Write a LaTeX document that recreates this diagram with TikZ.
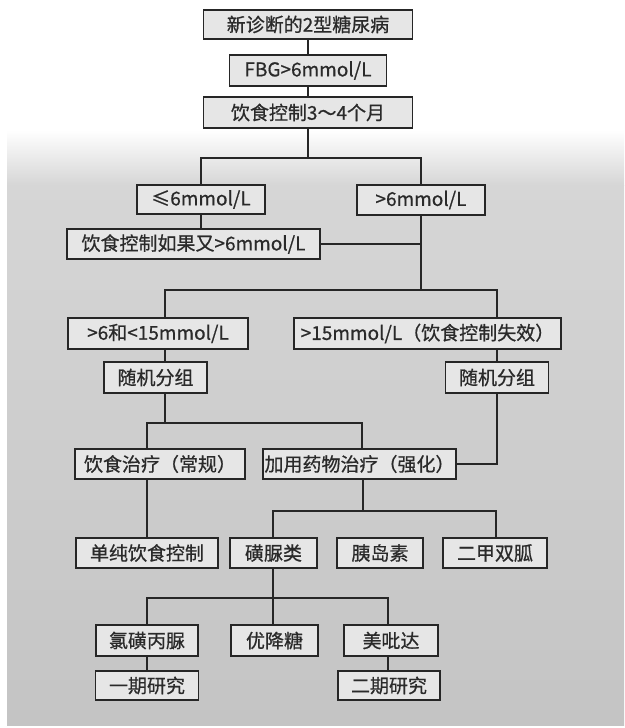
\documentclass[tikz,border=0pt]{standalone}
\usepackage{fontspec}
\setmainfont{Noto Sans CJK SC}[FakeBold=0.7]
\definecolor{bgA}{HTML}{D6D6D6}
\definecolor{bgB}{HTML}{C4C4C4}
\definecolor{boxfill}{HTML}{E6E6E6}
\definecolor{boxline}{HTML}{262626}
\definecolor{txt}{HTML}{2A2A2A}
\begin{document}
\begin{tikzpicture}[x=1pt,y=-1pt,
  box/.style={draw=boxline, fill=boxfill, line width=1.4pt, inner sep=0pt,
    minimum height=30pt, text=txt, font=\fontsize{19}{20}\selectfont},
  link/.style={draw=boxline, line width=1.2pt}]
\useasboundingbox (0,0) rectangle (624,728);
\fill[white] (0,0) rectangle (624,728);
\shade[top color=white, bottom color=bgA] (7,130) rectangle (624,185);
\shade[top color=bgA, bottom color=bgB] (7,185) rectangle (624,725);

% nodes
\node[box, minimum width=209pt, minimum height=29pt] (b1) at (308,24.5) {新诊断的2型糖尿病};
\node[box, minimum width=157pt, minimum height=31pt] (b2) at (308,70.5) {FBG>6mmol/L};
\node[box, minimum width=209pt, minimum height=31pt] (b3) at (308,112.5) {饮食控制3～4个月};

\node[box, minimum width=128pt, minimum height=29pt] (b4) at (201,199.5) {≤6mmol/L};
\node[box, minimum width=128pt, minimum height=30pt] (b5) at (421,200) {>6mmol/L};
\node[box, minimum width=253pt, minimum height=30pt] (b6) at (193.5,244) {饮食控制如果又>6mmol/L};

\node[box, minimum width=180pt, minimum height=31pt] (b7) at (158,333.5) {>6和<15mmol/L};
\node[box, minimum width=267pt, minimum height=31pt] (b8) at (427.5,333.5) {>15mmol/L（饮食控制失效）};
\node[box, minimum width=103pt, minimum height=31pt] (r1) at (155.5,377.5) {随机分组};
\node[box, minimum width=103pt, minimum height=31pt] (r2) at (497,377.5) {随机分组};

\node[box, minimum width=170pt, minimum height=30pt] (b9) at (160,464) {饮食治疗（常规）};
\node[box, minimum width=193pt, minimum height=30pt] (b10) at (359.5,464) {加用药物治疗（强化）};

\node[box, minimum width=142pt, minimum height=30pt] (c1) at (147,553) {单纯饮食控制};
\node[box, minimum width=87pt, minimum height=30pt] (c2) at (273.5,553) {磺脲类};
\node[box, minimum width=86pt, minimum height=30pt] (c3) at (380,553) {胰岛素};
\node[box, minimum width=104pt, minimum height=30pt] (c4) at (495,553) {二甲双胍};

\node[box, minimum width=102pt, minimum height=31pt] (d1) at (147,640.5) {氯磺丙脲};
\node[box, minimum width=87pt, minimum height=31pt] (d2) at (274.5,640.5) {优降糖};
\node[box, minimum width=94pt, minimum height=31pt] (d3) at (391,640.5) {美吡达};
\node[box, minimum width=103pt, minimum height=29pt] (e1) at (147,685.5) {一期研究};
\node[box, minimum width=102pt, minimum height=29pt] (e2) at (389,685.5) {二期研究};

% junction coordinates
\coordinate (j1) at (308,158);
\coordinate (j2) at (421,290);
\coordinate (jL) at (165,290);
\coordinate (jR) at (497,290);
\coordinate (k1) at (165,423);
\coordinate (kL) at (147,423);
\coordinate (kR) at (362,423);
\coordinate (m1) at (363,511);
\coordinate (mL) at (273,511);
\coordinate (mR) at (496,511);
\coordinate (n1) at (273,598);
\coordinate (nL) at (147,598);
\coordinate (nR) at (388,598);

% connectors
\draw[link] (b1.south) -- (b2.north);
\draw[link] (b2.south) -- (b3.north);
\draw[link] (b3.south) -- (j1);
\draw[link] (b4.north) |- (j1) -| (b5.north);
\draw[link] (b4.south) -- (b6.north -| b4.south);
\draw[link] (b6.east) -- (b6.east -| j2);
\draw[link] (b5.south) -- (j2);
\draw[link] (jL |- b7.north) -- (jL) -- (jR) -- (jR |- b8.north);
\draw[link] (b7.south -| jL) -- (r1.north -| jL);
\draw[link] (b8.south -| r2.north) -- (r2.north);
\draw[link] (r2.south) |- (b10.east);
\draw[link] (r1.south -| k1) -- (k1);
\draw[link] (kL |- b9.north) -- (kL) -- (kR) -- (kR |- b10.north);
\draw[link] (b9.south -| c1.north) -- (c1.north);
\draw[link] (b10.south -| m1) -- (m1);
\draw[link] (mL |- c2.north) -- (mL) -- (mR) -- (mR |- c4.north);
\draw[link] (c2.south -| n1) -- (n1);
\draw[link] (nL |- d1.north) -- (nL) -- (nR) -- (nR |- d3.north);
\draw[link] (n1) -- (n1 |- d2.north);
\draw[link] (d1.south -| e1.north) -- (e1.north);
\draw[link] (d3.south -| nR) -- (e2.north -| nR);
\end{tikzpicture}
\end{document}
